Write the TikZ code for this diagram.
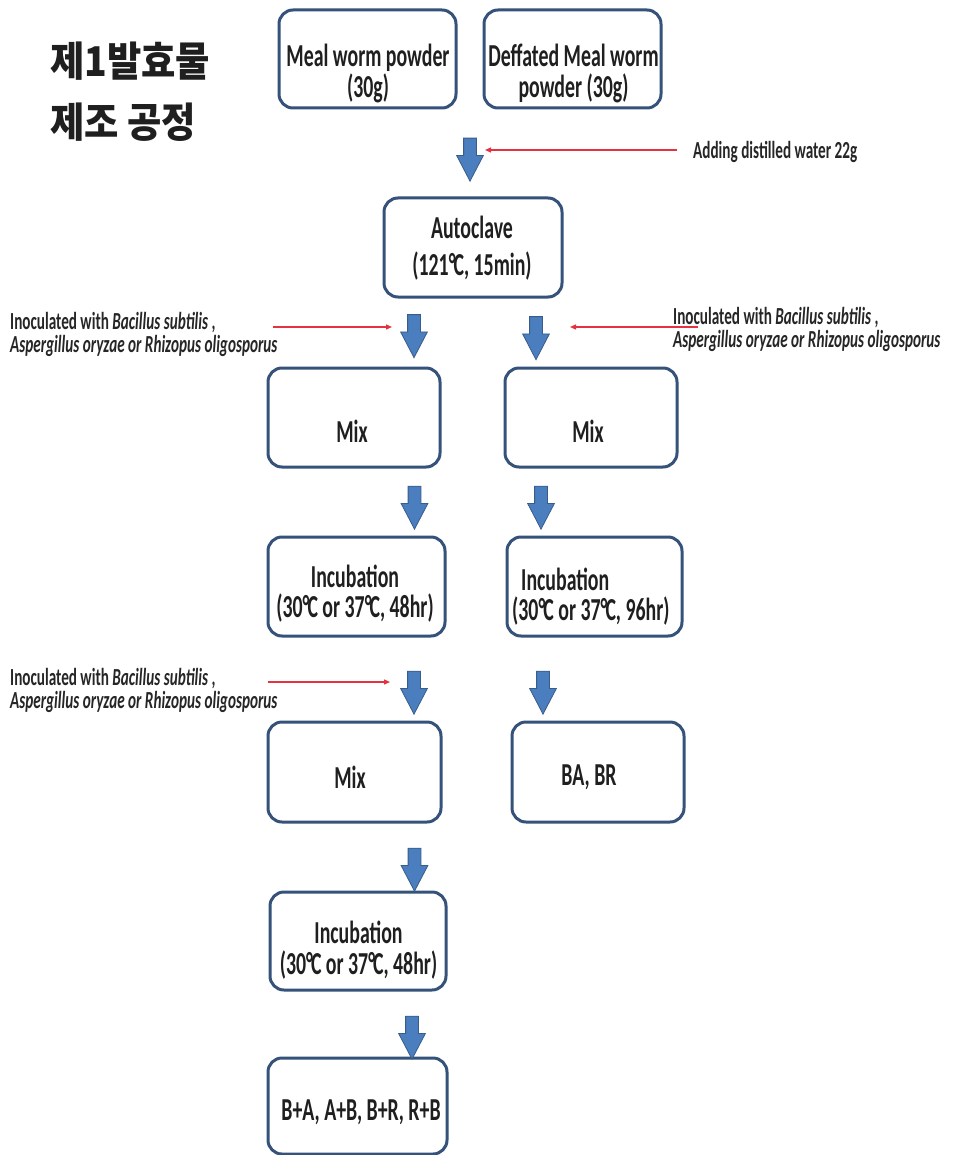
\documentclass[tikz,border=0pt]{standalone}
\usepackage{fontspec}
\usetikzlibrary{shapes.arrows,arrows.meta}
\newfontfamily\boxfont[FakeStretch=0.62]{Carlito}
\newfontfamily\labfont[FakeStretch=0.62]{Carlito}
\newfontfamily\korfont[FakeStretch=0.91]{Noto Sans CJK KR}
\definecolor{boxline}{RGB}{52,82,122}
\definecolor{arrowfill}{RGB}{74,126,190}
\definecolor{arrowline}{RGB}{56,93,138}
\definecolor{inocred}{RGB}{228,50,65}
\newcommand\degC{°\kern-0.06em C}
\tikzset{
  stepbox/.style={draw=boxline, line width=3pt, rounded corners=14pt, fill=white, inner sep=0pt},
  boxtext/.style={font=\boxfont\bfseries\fontsize{32}{31}\selectfont, align=center, inner sep=0pt, text=black!88},
  labtext/.style={font=\labfont\bfseries\fontsize{24.5}{23}\selectfont, align=left, inner sep=0pt, anchor=west, text=black!85},
  downarrow/.style={single arrow, shape border rotate=270, draw=arrowline, fill=arrowfill,
    line width=0.8pt, inner sep=6pt, single arrow head extend=7pt, single arrow tip angle=55,
    minimum height=43pt, minimum width=26pt},
  redarr/.style={draw=inocred, line width=1.2pt, -{Triangle[length=6pt,width=5pt]}}
}
\begin{document}
\begin{tikzpicture}[x=1pt,y=-1pt]
\useasboundingbox[fill=white] (0,0) rectangle (960,1155);

% title
\node[font=\korfont\bfseries\fontsize{41}{61}\selectfont, align=left, anchor=west, inner sep=0pt, text=black!88]
  (title) at (50,92) {제1발효물\\제조 공정};

% process boxes
\node[stepbox, minimum width=177pt, minimum height=98pt] (mw)   at (367.5,59) {};
\node[stepbox, minimum width=177pt, minimum height=98pt] (dmw)  at (572.5,59) {};
\node[stepbox, minimum width=178pt, minimum height=99pt] (auto) at (473,247.5) {};
\node[stepbox, minimum width=172pt, minimum height=99pt] (mixl) at (354,417.5) {};
\node[stepbox, minimum width=172pt, minimum height=99pt] (mixr) at (591,417.5) {};
\node[stepbox, minimum width=177pt, minimum height=99pt] (incl) at (356.5,586.5) {};
\node[stepbox, minimum width=175pt, minimum height=99pt] (incr) at (594.5,586.5) {};
\node[stepbox, minimum width=173pt, minimum height=100pt] (mixb) at (354.5,772) {};
\node[stepbox, minimum width=172pt, minimum height=100pt] (babr) at (598,772) {};
\node[stepbox, minimum width=176pt, minimum height=98pt] (incb) at (358,941) {};
\node[stepbox, minimum width=179pt, minimum height=96pt] (fin)  at (357.5,1106) {};

% box texts
\node[boxtext] (mwtxt)   at (368,73) {Meal worm powder\\(30g)};
\node[boxtext] (dmwtxt)  at (573.5,73) {Deffated Meal worm\\powder (30g)};
\node[boxtext, font=\boxfont\bfseries\fontsize{32}{37}\selectfont] (autotxt) at (472,248.5) {Autoclave\\(121\degC, 15min)};
\node[boxtext] (mixltxt) at (352,431) {Mix};
\node[boxtext] (mixrtxt) at (588,431) {Mix};
\node[boxtext, font=\boxfont\bfseries\fontsize{32}{30}\selectfont] (incltxt) at (355,594) {Incubation\\(30\degC{} or 37\degC, 48hr)};
\node[boxtext, align=left, anchor=west, font=\boxfont\bfseries\fontsize{32}{30}\selectfont] (incrtxt) at (512,597) {\hspace{9pt}Incubation\\(30\degC{} or 37\degC, 96hr)};
\node[boxtext] (mixbtxt) at (350,777) {Mix};
\node[boxtext] (babrtxt) at (589,777) {BA, BR};
\node[boxtext, font=\boxfont\bfseries\fontsize{32}{31}\selectfont] (incbtxt) at (358.5,950) {Incubation\\(30\degC{} or 37\degC, 48hr)};
\node[boxtext] (fintxt)  at (361,1112) {B+A, A+B, B+R, R+B};

% flow arrows
\node[downarrow] (a1)  at (470,153.5) {};
\node[downarrow] (a2l) at (414,330) {};
\node[downarrow] (a2r) at (536,332) {};
\node[downarrow] (a3l) at (414.5,501.5) {};
\node[downarrow] (a3r) at (541,501.5) {};
\node[downarrow] (a4l) at (414,686.5) {};
\node[downarrow] (a4r) at (543,686.5) {};
\node[downarrow] (a5)  at (414.5,863.5) {};
\node[downarrow] (a6)  at (412,1031.5) {};

% side notes
\node[labtext] (water) at (693,152) {Adding distilled water 22g};
\node[labtext] (inocl1) at (10,334) {Inoculated with \textit{Bacillus subtilis} ,\\\textit{Aspergillus oryzae or Rhizopus oligosporus}};
\node[labtext] (inocr1) at (673,329) {Inoculated with \textit{Bacillus subtilis} ,\\\textit{Aspergillus oryzae or Rhizopus oligosporus}};
\node[labtext] (inocl2) at (10,690) {Inoculated with \textit{Bacillus subtilis} ,\\\textit{Aspergillus oryzae or Rhizopus oligosporus}};

% pointers from the notes to the flow arrows
\coordinate (w0) at (677,150);  \coordinate (w1) at (485,150);
\coordinate (l0) at (273,327);  \coordinate (l1) at (392,327);
\coordinate (r0) at (698,327);  \coordinate (r1) at (570,327);
\coordinate (m0) at (268,682);  \coordinate (m1) at (390,682);
\draw[redarr] (w0) -- (w1);
\draw[redarr] (l0) -- (l1);
\draw[redarr] (r0) -- (r1);
\draw[redarr] (m0) -- (m1);
\end{tikzpicture}
\end{document}
